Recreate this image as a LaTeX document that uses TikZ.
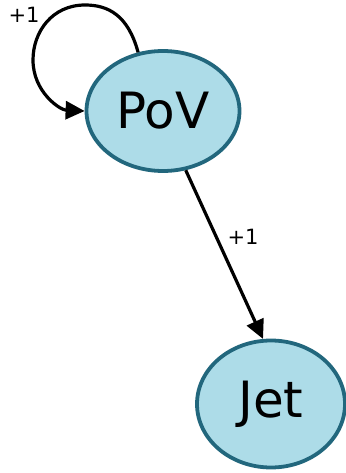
\documentclass[tikz,border=0pt]{standalone}
\usepackage{fontspec}
\setmainfont{DejaVu Sans}
\usetikzlibrary{arrows.meta,shapes.geometric}
\definecolor{statefill}{HTML}{ADDCE8}
\definecolor{stateline}{HTML}{22677D}
\tikzset{
  state/.style={ellipse, draw=stateline, line width=3.8pt, fill=statefill,
    inner sep=0pt, font=\fontsize{50}{50}\selectfont},
  flow/.style={line width=3.2pt, -{Triangle[length=19pt,width=18pt]}},
  weight/.style={font=\fontsize{21}{21}\selectfont}
}
\begin{document}
\begin{tikzpicture}[x=1pt,y=-1pt]
\useasboundingbox (0,0) rectangle (345,473);
% states
\node[state, minimum width=153pt, minimum height=120pt] (pov) at (163,111) {PoV};
\node[state, minimum width=148pt, minimum height=127pt] (jet) at (271,404) {Jet};
% self transition
\draw[flow] (pov.113) .. controls (128,15) and (108,5) .. (85,5)
  .. controls (52,5) and (33,32) .. (33,60)
  .. controls (33,92) and (60,110) .. (pov.west);
\node[weight] (selfw) at (24,15) {+1};
% transition to Jet
\draw[flow] (pov.-69) -- (jet.97);
\node[weight] (edgew) at (243,237) {+1};
\end{tikzpicture}
\end{document}
